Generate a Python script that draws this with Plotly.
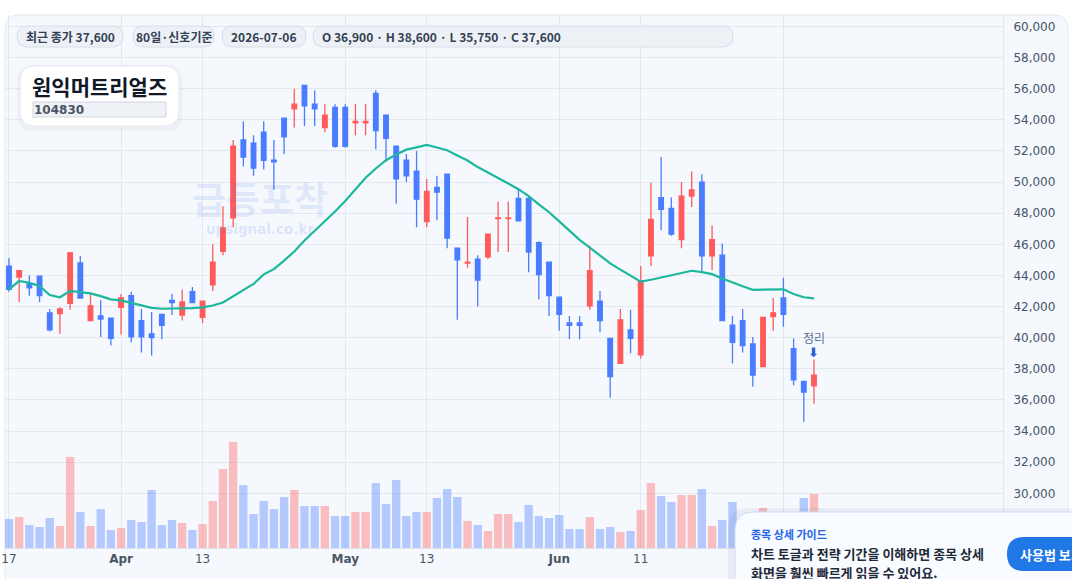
import plotly.graph_objects as go
import pandas as pd

# ---------------- data ----------------
dates = pd.bdate_range("2026-03-17", "2026-07-06").strftime("%Y-%m-%d").tolist()

opens = [44600, 43900, 43450, 43950, 41600, 41550, 42200, 44800, 41100, 41400,
         41250, 41950, 42700, 41100, 40250, 41500, 42400, 41450, 42950, 41300,
         43400, 45550, 47700, 52700, 52500, 53200, 51400, 54100, 54700, 56200,
         55000, 53500, 54800, 54800, 53800, 53800, 55700, 54300, 52300, 51400,
         50700, 47450, 49650, 50500, 45750, 44800, 45050, 45200, 47650, 47650,
         48950, 48950, 46100, 44850, 42600, 40950, 40950, 42050, 42350, 39950,
         38350, 40500, 38900, 45250, 49000, 48300, 46300, 49100, 50000, 45250,
         45300, 40800, 41100, 39600, 38150, 41350, 42550, 39300, 37200, 36900]

highs = [45100, 44300, 44000, 44000, 41850, 41950, 45500, 45250, 42800, 42400,
         41250, 42800, 42950, 41850, 41650, 41500, 42800, 43100, 43250, 42350,
         46000, 48450, 52700, 53900, 53000, 53900, 52700, 54100, 56000, 56200,
         55900, 55000, 55000, 55000, 55000, 55000, 55900, 54300, 52300, 51800,
         52000, 50200, 50400, 50500, 45750, 47750, 45300, 46700, 48750, 48750,
         49550, 49100, 46200, 44850, 42600, 41400, 41400, 45900, 43000, 39950,
         41850, 41800, 44600, 49950, 51600, 49000, 50000, 50700, 50500, 47200,
         46050, 41400, 41850, 40050, 41300, 42550, 43850, 39950, 37200, 38600]

lows = [42950, 42300, 42700, 42300, 40400, 40250, 41800, 42500, 41050, 40050,
        39500, 40200, 39700, 39050, 38850, 39900, 41450, 41100, 42250, 40950,
        43000, 45300, 47100, 51000, 50400, 50800, 49500, 51800, 53500, 53600,
        53600, 53200, 52200, 52200, 53000, 53000, 52100, 51300, 48600, 50000,
        47100, 47100, 47550, 45750, 41150, 44500, 42000, 45050, 45500, 45500,
        47500, 44200, 42450, 41400, 40450, 39900, 39900, 41800, 40350, 36150,
        38350, 39000, 38650, 44600, 46900, 46550, 45750, 48400, 44150, 44350,
        41100, 38350, 39050, 36850, 38150, 40450, 40700, 36950, 34600, 35750]

closes = [43100, 44300, 43200, 42700, 40500, 41850, 45450, 42550, 42050, 41200,
          39950, 42550, 40050, 40050, 40000, 40800, 42250, 42300, 42250, 42350,
          44850, 47050, 52300, 51600, 50900, 51400, 51300, 52900, 55000, 54900,
          54700, 54300, 52300, 52300, 53900, 53900, 53300, 52800, 50200, 50400,
          48900, 49400, 49350, 46400, 45000, 44850, 43700, 46650, 47700, 47700,
          47500, 45500, 44050, 42700, 41500, 40800, 40800, 44300, 41100, 37500,
          41150, 39950, 43650, 47600, 48250, 46650, 49100, 49500, 45250, 46300,
          41100, 39700, 39500, 37600, 41300, 41600, 41500, 37300, 36500, 37600]

ma20 = [43110, 43640, 43520, 43320, 42740, 42600, 43000, 42920, 42850, 42670,
        42460, 42400, 42230, 42060, 41920, 41860, 41870, 41890, 41900, 41950,
        42070, 42260, 42640, 43030, 43450, 44070, 44400, 44950, 45540, 46240,
        46850, 47450, 48110, 48780, 49530, 50280, 50870, 51400, 51770, 52080,
        52230, 52380, 52220, 52040, 51710, 51380, 50960, 50620, 50270, 49900,
        49540, 49090, 48560, 48060, 47470, 46890, 46290, 45790, 45280, 44770,
        44370, 43960, 43600, 43720, 43860, 43990, 44170, 44300, 44210, 44080,
        43800, 43530, 43300, 43070, 43080, 43100, 43110, 42810, 42600, 42530]

volume_k = [290, 310, 230, 210, 300, 220, 910, 360, 220, 390,
            180, 200, 280, 260, 580, 230, 280, 250, 180, 240,
            470, 790, 1060, 630, 340, 470, 390, 510, 580, 420,
            420, 420, 320, 320, 360, 360, 650, 440, 680, 320,
            360, 360, 500, 590, 510, 270, 230, 170, 340, 340,
            260, 430, 320, 300, 330, 190, 190, 310, 190, 210,
            160, 170, 380, 650, 520, 460, 530, 530, 590, 220,
            280, 460, 300, 330, 400, 250, 300, 280, 500, 540]

tick_dates = ["2026-03-17", "2026-04-01", "2026-04-13", "2026-05-01",
              "2026-05-13", "2026-06-01", "2026-06-11", "2026-07-01"]
tick_text = ["17", "<b>Apr</b>", "13", "<b>May</b>", "13", "<b>Jun</b>", "11", "<b>Jul</b>"]
price_ticks = list(range(30000, 60001, 2000))

name = "원익머트리얼즈"
code = "104830"
chips = ["최근 종가 37,600", "80일·신호기준", "2026-07-06",
         "O 36,900 · H 38,600 · L 35,750 · C 37,600"]

# ---------------- style ----------------
RED = "#ff5b5b"
BLUE = "#4a7cff"
W, H = 1072, 579
L, R, T, B = 5, 69, 15, 31
PW, PH = W - L - R, H - T - B


def fx(px):
    return (px - L) / PW


def fy(py):
    return (H - B - py) / PH


def rrect(x0, y0, x1, y1, r):
    p = [
        f"M {fx(x0 + r)},{fy(y0)}", f"L {fx(x1 - r)},{fy(y0)}",
        f"Q {fx(x1)},{fy(y0)} {fx(x1)},{fy(y0 + r)}", f"L {fx(x1)},{fy(y1 - r)}",
        f"Q {fx(x1)},{fy(y1)} {fx(x1 - r)},{fy(y1)}", f"L {fx(x0 + r)},{fy(y1)}",
        f"Q {fx(x0)},{fy(y1)} {fx(x0)},{fy(y1 - r)}", f"L {fx(x0)},{fy(y0 + r)}",
        f"Q {fx(x0)},{fy(y0)} {fx(x0 + r)},{fy(y0)}", "Z"]
    return " ".join(p)


def shape(path, fill, line=None, lw=1, layer="above"):
    return dict(type="path", xref="paper", yref="paper", path=path,
                fillcolor=fill, line=dict(color=line or "rgba(0,0,0,0)", width=lw if line else 0),
                layer=layer)


vol_colors = ["rgba(255,91,91,0.38)" if c >= o else "rgba(74,124,255,0.38)"
              for o, c in zip(opens, closes)]

fig = go.Figure()
fig.add_trace(go.Bar(x=dates, y=volume_k, marker=dict(color=vol_colors, line=dict(width=0)),
                     yaxis="y2", hoverinfo="skip", showlegend=False))
fig.add_trace(go.Candlestick(
    x=dates, open=opens, high=highs, low=lows, close=closes,
    increasing=dict(line=dict(color=RED, width=1.3), fillcolor=RED),
    decreasing=dict(line=dict(color=BLUE, width=1.3), fillcolor=BLUE),
    whiskerwidth=0, showlegend=False))
fig.add_trace(go.Scatter(x=dates, y=ma20, mode="lines",
                         line=dict(color="#1bb89d", width=2.2), showlegend=False,
                         hoverinfo="skip"))

shapes = []
# panel
shapes.append(shape(rrect(5, 15, 1068, 660, 14), "#f5f8fd", "#e2e8f0", 1, "below"))
# title card
shapes.append(shape(rrect(17, 65, 183, 131, 17), "rgba(15,23,42,0.035)"))
shapes.append(shape(rrect(20, 66, 179, 126, 15), "#ffffff", "rgba(226,232,240,0.9)"))
shapes.append(dict(type="rect", xref="paper", yref="paper", x0=fx(33), x1=fx(166),
                   y0=fy(117), y1=fy(102), fillcolor="#eef1f6",
                   line=dict(color="#cfd6e0", width=1), layer="above"))
# chips
chip_boxes = [(17, 123), (133, 214), (222, 306), (313, 733)]
for (a, b) in chip_boxes:
    shapes.append(shape(rrect(a, 26, b, 47, 10.5), "#edf1f6", "#d8dee8"))
# guide card
shapes.append(shape(rrect(728, 508, 1120, 660, 20), "rgba(15,23,42,0.05)"))
shapes.append(shape(rrect(735, 512, 1120, 660, 18), "#f8fbff", "#c9dcf8"))
shapes.append(shape(rrect(1007, 537, 1110, 571, 17), "#1f78e6"))

anns = []
chip_font = dict(family="Noto Sans CJK KR", size=12, color="#334155")
for i, (t, (a, b)) in enumerate(zip(chips, chip_boxes)):
    if i < 3:
        anns.append(dict(x=fx((a + b) / 2), y=fy(36.5), xref="paper", yref="paper",
                         text=f"<b>{t}</b>", showarrow=False, xanchor="center",
                         yanchor="middle", font=chip_font))
    else:
        anns.append(dict(x=fx(a + 7), y=fy(36.5), xref="paper", yref="paper",
                         text=f"<b>{t}</b>", showarrow=False, xanchor="left",
                         yanchor="middle", font=chip_font))
anns.append(dict(x=fx(30), y=fy(86), xref="paper", yref="paper", text=f"<b>{name}</b>",
                 showarrow=False, xanchor="left", yanchor="middle",
                 font=dict(family="Noto Sans CJK KR", size=21, color="#111827")))
anns.append(dict(x=fx(32), y=fy(109.5), xref="paper", yref="paper", text=f"<b>{code}</b>",
                 showarrow=False, xanchor="left", yanchor="middle",
                 font=dict(family="DejaVu Sans", size=12, color="#4b5563")))
# watermark
anns.append(dict(x=fx(260), y=fy(198), xref="paper", yref="paper", text="<b>급등포착</b>",
                 showarrow=False, xanchor="center", yanchor="middle",
                 font=dict(family="Noto Sans CJK KR", size=37, color="rgba(70,120,230,0.13)")))
anns.append(dict(x=fx(260), y=fy(229), xref="paper", yref="paper", text="<b>upsignal.co.kr</b>",
                 showarrow=False, xanchor="center", yanchor="middle",
                 font=dict(family="DejaVu Sans", size=13.5, color="rgba(70,120,230,0.16)")))
# signal marker on last candle
anns.append(dict(x=dates[-1], y=highs[-1], xref="x", yref="y", text="정리",
                 showarrow=False, yshift=11, yanchor="bottom",
                 font=dict(family="Noto Sans CJK KR", size=12, color="#5b6f99")))
anns.append(dict(x=dates[-1], y=highs[-1], xref="x", yref="y", text="<b>⬇</b>",
                 showarrow=False, yshift=-3, yanchor="bottom",
                 font=dict(family="DejaVu Sans", size=13, color="#2c5fd6")))
# guide card text
anns.append(dict(x=fx(749), y=fy(534), xref="paper", yref="paper", text="<b>종목 상세 가이드</b>",
                 showarrow=False, xanchor="left", yanchor="middle",
                 font=dict(family="Noto Sans CJK KR", size=11, color="#2563eb")))
anns.append(dict(x=fx(749), y=fy(553), xref="paper", yref="paper",
                 text="<b>차트 토글과 전략 기간을 이해하면 종목 상세</b>",
                 showarrow=False, xanchor="left", yanchor="middle",
                 font=dict(family="Noto Sans CJK KR", size=13, color="#1f2937")))
anns.append(dict(x=fx(749), y=fy(572), xref="paper", yref="paper",
                 text="<b>화면을 훨씬 빠르게 읽을 수 있어요.</b>",
                 showarrow=False, xanchor="left", yanchor="middle",
                 font=dict(family="Noto Sans CJK KR", size=13, color="#1f2937")))
anns.append(dict(x=fx(1018), y=fy(554), xref="paper", yref="paper", text="<b>사용법 보기</b>",
                 showarrow=False, xanchor="left", yanchor="middle",
                 font=dict(family="Noto Sans CJK KR", size=13, color="#ffffff")))

fig.update_layout(
    width=W, height=H,
    margin=dict(l=L, r=R, t=T, b=B, pad=0, autoexpand=False),
    paper_bgcolor="#ffffff", plot_bgcolor="rgba(0,0,0,0)",
    showlegend=False, bargap=0.18, boxgap=0.36,
    xaxis=dict(type="category", range=[-0.39, 97.55], rangeslider=dict(visible=False),
               automargin=False,
               tickmode="array", tickvals=tick_dates, ticktext=tick_text,
               showgrid=True, gridcolor="#e3e8ef", gridwidth=1,
               showline=True, linecolor="#dde3ea", linewidth=1, ticks="",
               tickfont=dict(family="DejaVu Sans", size=12, color="#4b5563"),
               zeroline=False),
    yaxis=dict(side="right", range=[26490, 60730], tickmode="array", tickvals=price_ticks,
               automargin=False,
               ticktext=[f"{v:,}" for v in price_ticks],
               showgrid=True, gridcolor="#e3e8ef", gridwidth=1, zeroline=False,
               showline=True, linecolor="#e3e8ef", linewidth=1, ticks="",
               ticklabelstandoff=7,
               tickfont=dict(family="DejaVu Sans", size=12, color="#475569")),
    yaxis2=dict(overlaying="y", side="right", range=[0, max(volume_k) * PH / 106],
                automargin=False,
                showgrid=False, showticklabels=False, zeroline=False, showline=False),
    shapes=shapes, annotations=anns,
)

fig.write_html("out.html")
